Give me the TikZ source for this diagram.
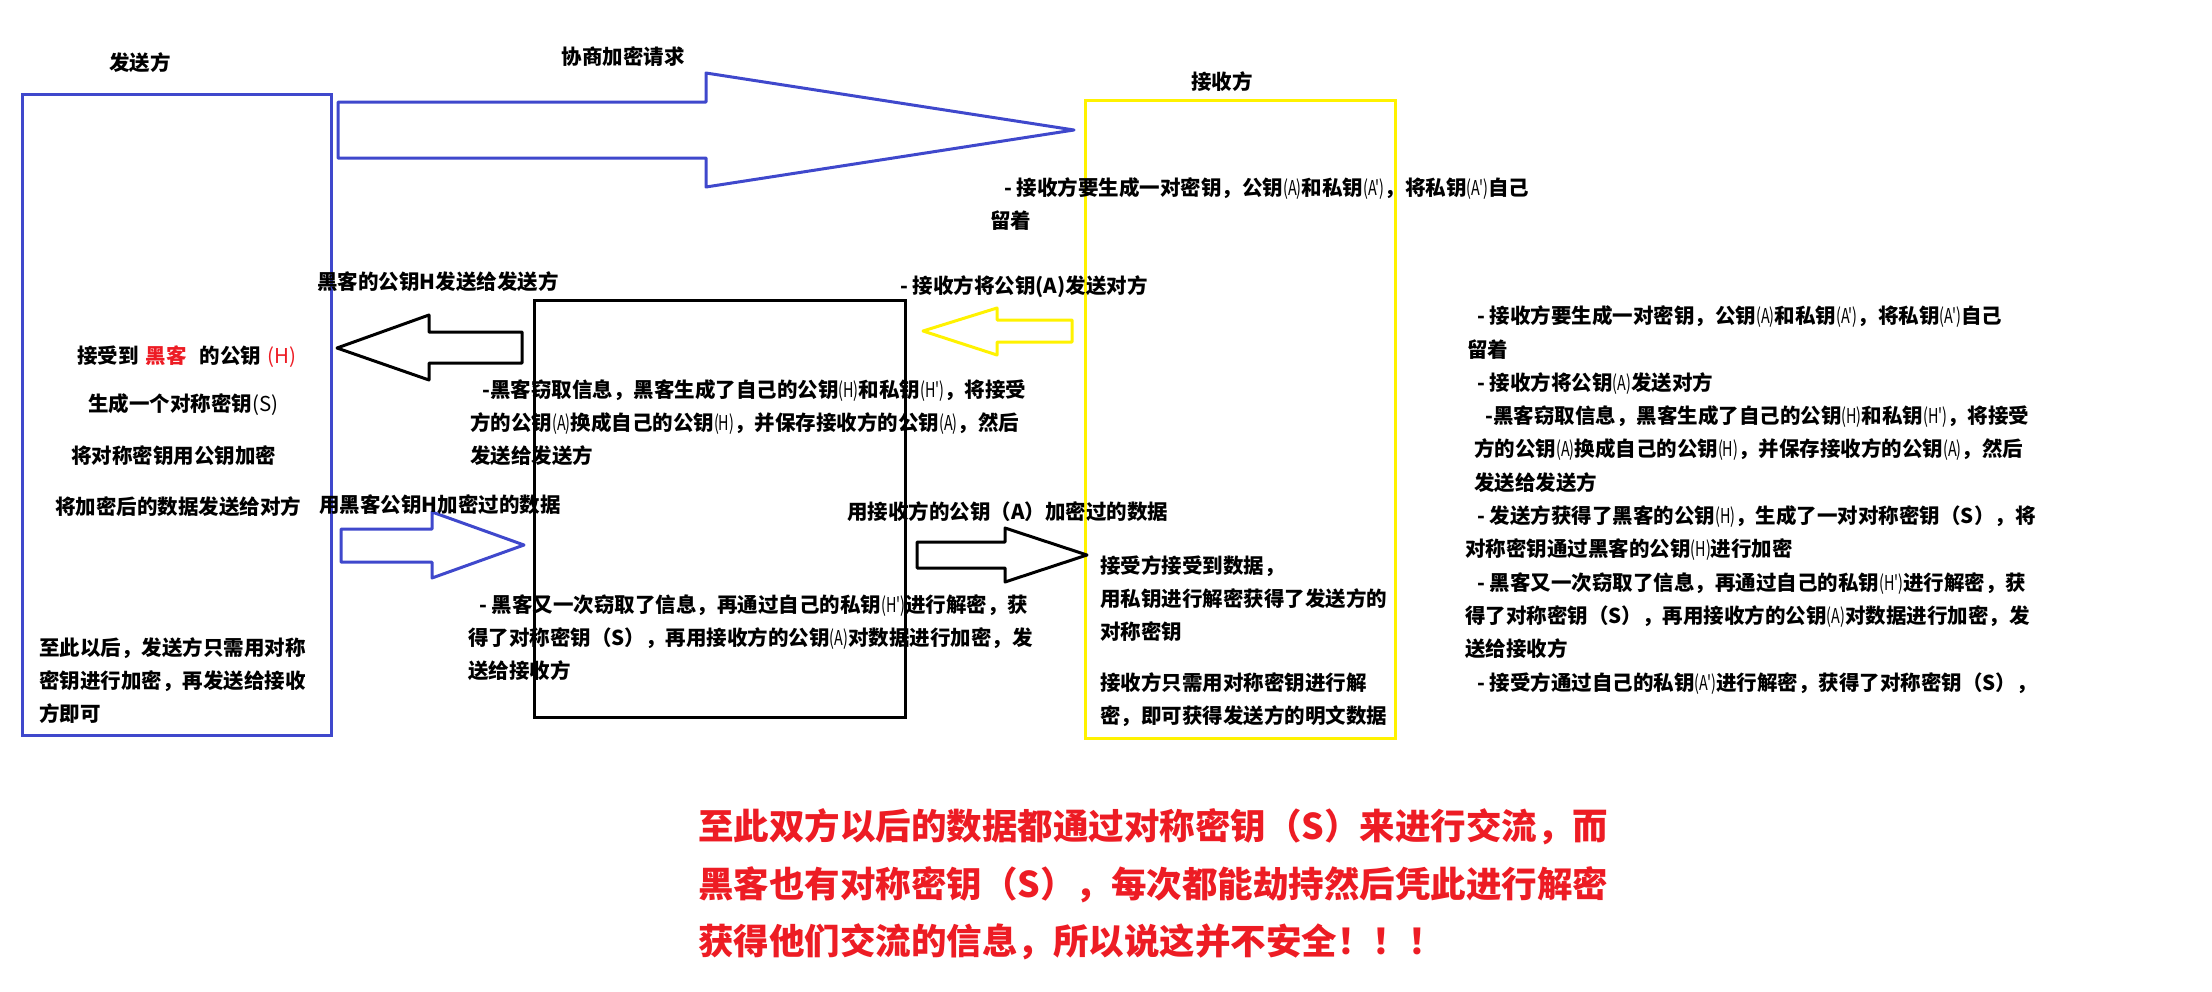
\documentclass[tikz,border=0pt]{standalone}
\usepackage{fontspec}
\usepackage{xcolor}
\usetikzlibrary{positioning}
\newfontfamily\cjk{Noto Sans CJK SC}
\newfontfamily\narrowcjk{Noto Sans CJK SC}[FakeStretch=0.7]
\newcommand\lat[1]{{\narrowcjk\mdseries #1}}
\definecolor{paintblue}{HTML}{3F48CC}
\definecolor{paintyellow}{HTML}{FFF200}
\definecolor{paintred}{HTML}{ED1C24}
\definecolor{ink}{HTML}{000000}
\tikzset{
  partybox/.style={line width=3pt,inner sep=0pt},
  senderbox/.style={partybox,draw=paintblue},
  receiverbox/.style={partybox,draw=paintyellow},
  hackerbox/.style={partybox,draw=ink},
  title/.style={inner sep=0pt,font=\cjk\bfseries\fontsize{20.5pt}{33pt}\selectfont},
  note/.style={anchor=west,inner sep=0pt,align=left,
               font=\cjk\bfseries\fontsize{20.5pt}{33pt}\selectfont},
  alert/.style={anchor=west,inner sep=0pt,align=left,text=paintred,
                font=\cjk\bfseries\fontsize{35.5pt}{57.5pt}\selectfont},
  bluearrow/.style={draw=paintblue,line width=3pt,line join=round},
  blackarrow/.style={draw=ink,line width=3pt,line join=round},
  yellowarrow/.style={draw=paintyellow,line width=3pt,line join=round}
}
\begin{document}
\begin{tikzpicture}[x=1pt,y=-1pt]
  \path[use as bounding box] (0,0) rectangle (2212,991);
  % the three parties
  \node[senderbox,minimum width=309pt,minimum height=641pt] (sender) at (176.5,414.5) {};
  \node[receiverbox,minimum width=310pt,minimum height=638pt] (receiver) at (1240,419) {};
  \node[hackerbox,minimum width=371pt,minimum height=417pt] (hacker) at (719.5,508.5) {};
  \node[title] (sendertitle) at (140,63) {发送方};
  \node[title] (receivertitle) at (1222,82) {接收方};
  \node[title] (requesttitle) at (623,57) {协商加密请求};
  % block arrows
  \draw[bluearrow] (338,102) -- (706,102) -- (706,73) -- (1074,130)
    -- (706,187) -- (706,158) -- (338,158) -- cycle;
  \draw[yellowarrow] (1072,320) -- (997,320) -- (997,308) -- (923,331)
    -- (997,355) -- (997,342) -- (1072,342) -- cycle;
  \draw[blackarrow] (522,332) -- (429,332) -- (429,315) -- (337,348)
    -- (429,380) -- (429,363) -- (522,363) -- cycle;
  \draw[bluearrow] (341,529) -- (432,529) -- (432,512) -- (524,545)
    -- (432,578) -- (432,562) -- (341,562) -- cycle;
  \draw[blackarrow] (917,542) -- (1005,542) -- (1005,528) -- (1087,555)
    -- (1005,582) -- (1005,568) -- (917,568) -- cycle;
  % sender side
  \node[note] (gotkey) at (77,357) {接受到\hspace{7pt}{\color{paintred}黑客}\hspace{13pt}的公钥\hspace{6pt}{\color{paintred}\mdseries(H)}};
  \node[note] (makekey) at (88,405) {生成一个对称密钥{\mdseries(S)}};
  \node[note] (lockkey) at (71,456) {将对称密钥用公钥加密};
  \node[note] (sendkey) at (55,507) {将加密后的数据发送给对方};
  \node[note] (senderlater) at (39,681) {至此以后，发送方只需用对称\\密钥进行加密，再发送给接收\\方即可};
  % hacker side
  \node[note] (fakekeylabel) at (317,282) {黑客的公钥H发送给发送方};
  \node[note] (steal) at (470,422.5) {\hspace*{12pt}-黑客窃取信息，黑客生成了自己的公钥\lat{(H)}和私钥\lat{(H')}，将接受\\方的公钥\lat{(A)}换成自己的公钥\lat{(H)}，并保存接收方的公钥\lat{(A)}，然后\\发送给发送方};
  \node[note] (fakedatalabel) at (319,505) {用黑客公钥H加密过的数据};
  \node[note] (stealagain) at (468,637.5) {\hspace*{11pt}- 黑客又一次窃取了信息，再通过自己的私钥\lat{(H')}进行解密，获\\得了对称密钥（S），再用接收方的公钥\lat{(A)}对数据进行加密，发\\送给接收方};
  \node[note] (realdatalabel) at (847,512) {用接收方的公钥（A）加密过的数据};
  % receiver side
  \node[note] (makepair) at (990,204.5) {\hspace*{14pt}- 接收方要生成一对密钥，公钥\lat{(A)}和私钥\lat{(A')}，将私钥\lat{(A')}自己\\留着};
  \node[note] (sendpub) at (900,287) {- 接收方将公钥(A)发送对方};
  \node[note] (gotdata) at (1100,599) {接受方接受到数据，\\用私钥进行解密获得了发送方的\\对称密钥};
  \node[note] (receiverlater) at (1100,700) {接收方只需用对称密钥进行解\\密，即可获得发送方的明文数据};
  % summary column
  \node[note,font=\cjk\bfseries\fontsize{20.5pt}{33.3pt}\selectfont] (steps) at (1465,500) {%
    \hspace*{12pt}- 接收方要生成一对密钥，公钥\lat{(A)}和私钥\lat{(A')}，将私钥\lat{(A')}自己\\
    \hspace*{2pt}留着\\
    \hspace*{12pt}- 接收方将公钥\lat{(A)}发送对方\\
    \hspace*{20pt}-黑客窃取信息，黑客生成了自己的公钥\lat{(H)}和私钥\lat{(H')}，将接受\\
    \hspace*{9pt}方的公钥\lat{(A)}换成自己的公钥\lat{(H)}，并保存接收方的公钥\lat{(A)}，然后\\
    \hspace*{9pt}发送给发送方\\
    \hspace*{12pt}- 发送方获得了黑客的公钥\lat{(H)}，生成了一对对称密钥（S），将\\
    对称密钥通过黑客的公钥\lat{(H)}进行加密\\
    \hspace*{12pt}- 黑客又一次窃取了信息，再通过自己的私钥\lat{(H')}进行解密，获\\
    得了对称密钥（S），再用接收方的公钥\lat{(A)}对数据进行加密，发\\
    送给接收方\\
    \hspace*{12pt}- 接受方通过自己的私钥\lat{(A')}进行解密，获得了对称密钥（S），};
  % conclusion
  \node[alert] (verdict) at (698,884.5) {至此双方以后的数据都通过对称密钥（S）来进行交流，而\\黑客也有对称密钥（S），每次都能劫持然后凭此进行解密\\获得他们交流的信息，所以说这并不安全！！！};
\end{tikzpicture}
\end{document}
